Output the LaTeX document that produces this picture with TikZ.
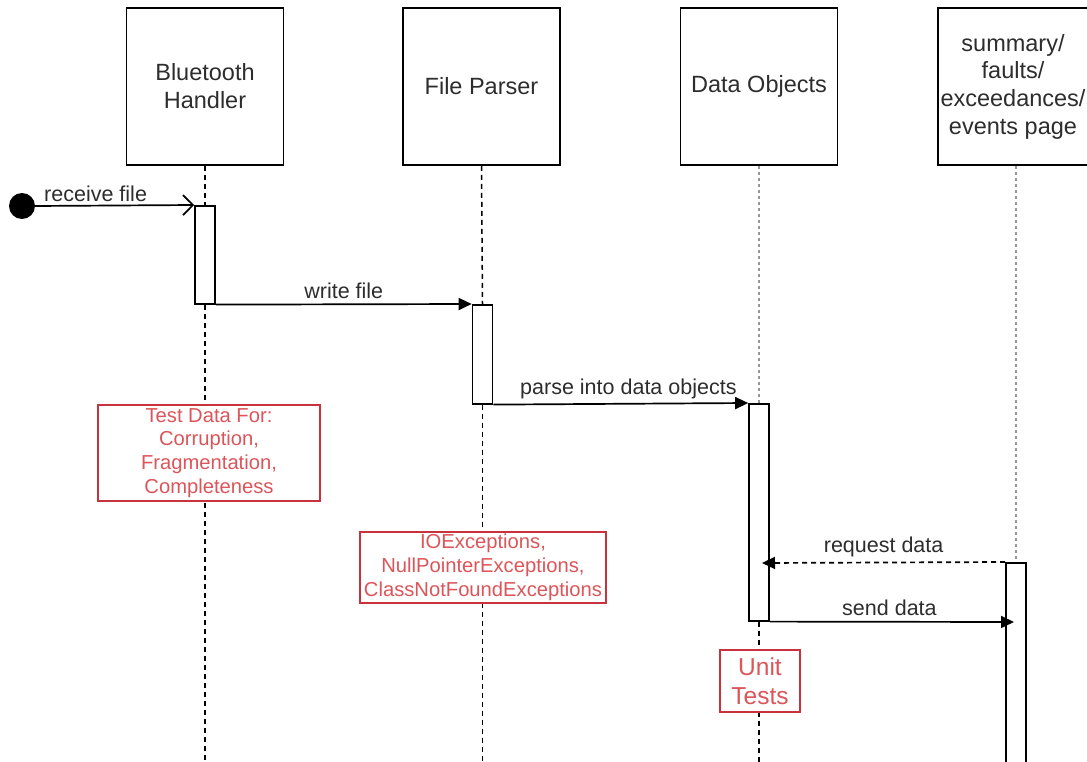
\documentclass[tikz,border=0pt]{standalone}
\usepackage{fontspec}
\setmainfont{Liberation Sans}
\usetikzlibrary{arrows.meta,calc}
\definecolor{txt}{RGB}{45,45,45}
\definecolor{redline}{RGB}{200,50,60}
\definecolor{redtxt}{RGB}{220,85,90}
\definecolor{lgray}{RGB}{150,150,150}
\tikzset{
  head/.style={draw=black,line width=1.6pt,fill=white,minimum width=157pt,minimum height=157pt,inner sep=0pt,align=center,text=txt,font=\fontsize{23.5}{28}\selectfont},
  actbox/.style={draw=black,line width=1.6pt,fill=white,minimum width=20pt,inner sep=0pt},
  life/.style={line width=1.5pt,dash pattern=on 5pt off 4pt},
  glife/.style={line width=2pt,lgray,dash pattern=on 3pt off 3pt},
  msg/.style={line width=1.7pt,-{Triangle[length=13pt,width=12pt]}},
  lbl/.style={text=txt,font=\fontsize{21.5}{25}\selectfont,inner sep=2pt},
  note/.style={draw=redline,line width=1.5pt,fill=white,align=center,text=redtxt,font=\fontsize{20.2}{23.8}\selectfont,inner sep=2pt}
}
\begin{document}
\begin{tikzpicture}[x=1pt,y=-1pt]
\useasboundingbox (0,0) rectangle (1087,762);
\clip (0,0) rectangle (1087,762);
% header boxes
\node[head] (bt) at (205,86.5) {Bluetooth\\Handler};
\node[head] (fp) at (481.5,86.5) {File Parser};
\node[head] (do) at (759,86.5) {Data Objects};
\node[head,minimum width=160pt] (sp) at (1018,86.5) {};
\node[text=txt,font=\fontsize{23.5}{27.7}\selectfont,align=center] (spt) at (1013,86.5) {summary/\\faults/\\exceedances/\\events page};
% activations
\node[actbox,minimum height=98pt,anchor=north] (a1) at (205,205) {};
\node[actbox,minimum height=99pt,anchor=north] (a2) at (482.5,304) {};
\node[actbox,minimum height=217pt,anchor=north] (a3) at (759,403) {};
\node[actbox,minimum height=200pt,anchor=north] (a4) at (1016,562) {};
\coordinate (e1) at (205,762);
\coordinate (e2) at (482.5,762);
\coordinate (e3) at (759,762);
% lifelines
\draw[life] (bt.south) -- (a1.north);
\draw[life] (a1.south) -- (e1);
\draw[life] (fp.south) -- (a2.north);
\draw[life] (a2.south) -- (e2);
\draw[glife] (do.south) -- (a3.north);
\draw[life] (a3.south) -- (e3);
\draw[glife] (sp.south -| a4.north) -- (a4.north);
% redraw activations on top
\node[actbox,minimum height=98pt,anchor=north] at (205,205) {};
\node[actbox,minimum height=99pt,anchor=north] at (482.5,304) {};
\node[actbox,minimum height=217pt,anchor=north] at (759,403) {};
\node[actbox,minimum height=200pt,anchor=north] at (1016,562) {};
% start
\node[circle,fill=black,minimum size=26pt,inner sep=0pt] (st) at (22,206) {};
\draw[line width=1.7pt,-{Straight Barb[length=10pt,width=20pt,line width=1.7pt]}] (st.east) -- (a1.north west) node[lbl,pos=0.38,above=1pt] {receive file};
% messages
\draw[msg] (a1.south east) -- (a2.north west) node[lbl,midway,above=3pt] {write file};
\draw[msg] (a2.south east) -- (a3.north west) node[lbl,pos=0.53,above=2pt] {parse into data objects};
\coordinate (rq) at (762,563);
\draw[msg,dash pattern=on 5pt off 4pt] (a4.north west) -- (rq) node[lbl,midway,above=3pt] {request data};
\coordinate (sd) at (1014,622);
\draw[msg] (a3.south east) -- (sd) node[lbl,pos=0.49,above=3pt] {send data};
% notes
\node[note,minimum width=222pt,minimum height=96pt] (n1) at (209,453) {Test Data For:\\Corruption,\\Fragmentation,\\Completeness};
\node[note,minimum width=246pt,minimum height=71pt] (n2) at (483,567.5) {IOExceptions,\\NullPointerExceptions,\\ClassNotFoundExceptions};
\node[note,minimum width=80pt,minimum height=62pt,font=\fontsize{24.5}{29}\selectfont] (n3) at (760,681) {Unit\\Tests};
\end{tikzpicture}
\end{document}
